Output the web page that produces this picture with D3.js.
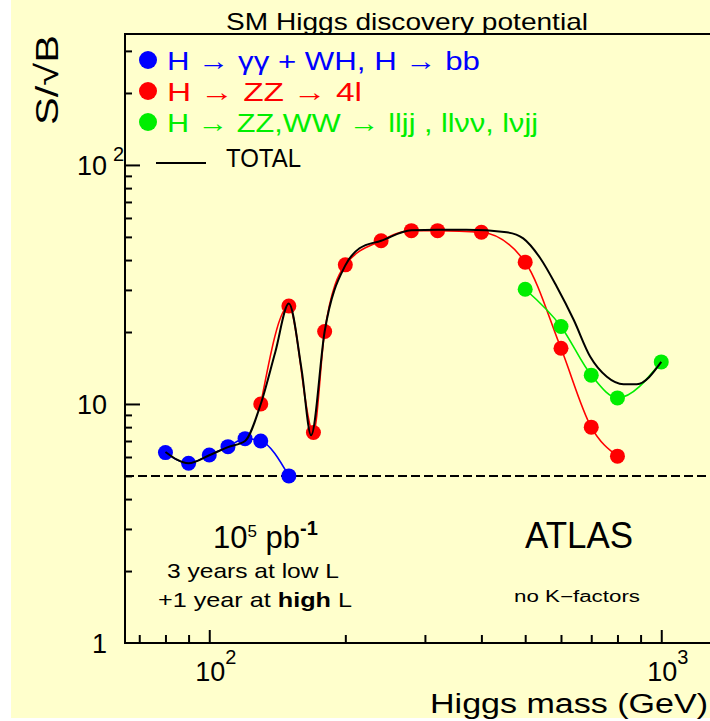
<!DOCTYPE html>
<html>
<head>
<meta charset="utf-8">
<script src="https://cdn.jsdelivr.net/npm/d3@7"></script>
<style>
  body { margin: 0; background: #fff; }
  text { font-family: "Liberation Sans", Arial, Helvetica, sans-serif; }
</style>
</head>
<body>
<svg class="chart"></svg>
<script>
// channels, S/sqrt(B) vs Higgs mass
let massBlue = [80, 90, 100, 110, 120, 130, 150];
let sbBlue   = [6.26, 5.65, 6.12, 6.63, 7.16, 7.0, 5.0];

let massRed = [130, 150, 170, 180, 200, 240, 280, 320, 400, 500, 600, 700, 800];
let sbRed   = [10.0, 25.7, 7.6, 20.1, 38.2, 48.2, 53.1, 53.1, 52.3, 39.2, 17.1, 8.0, 6.05];

let massGreen = [500, 600, 700, 800, 1000];
let sbGreen   = [30.2, 21.1, 13.2, 10.6, 15.0];

let massTotal = [80, 90, 100, 110, 120, 130, 140, 150, 160, 168, 180, 200, 215, 240, 280, 320, 370, 455, 495, 540, 587, 640, 696, 758, 825, 883, 1000];
let sbTotal   = [6.3, 5.65, 6.1, 6.6, 7.0, 10.0, 16.5, 26.3, 14.0, 7.4, 20.1, 38.0, 44.8, 48.2, 53.3, 53.5, 53.5, 52.3, 49.3, 40.7, 31.0, 22.5, 15.8, 13.0, 12.1, 12.1, 15.0];

let discoveryLine = 5;

let xMajor = [100, 1000];
let xMinor = [70, 80, 90, 200, 300, 400, 500, 600, 700, 800, 900];
let yMajor = [1, 10, 100];
let yMinor = [2, 3, 4, 5, 6, 7, 8, 9, 20, 30, 40, 50, 60, 70, 80, 90, 200, 300];

let width = 710;
let height = 721;

let svg = d3.select(".chart").attr("width", width).attr("height", height);

svg.append("rect")
  .attr("x", 11).attr("y", 0)
  .attr("width", width - 11).attr("height", 718)
  .attr("fill", "#ffffcc");

// scales: 1 decade = 452 px in x, 239 px in y
let xMin = 65.1, xMax = 1500;
let x = d3.scaleLog()
  .domain([xMin, xMax])
  .range([125, 125 + 452 * Math.log10(xMax / xMin)]);
let y = d3.scaleLog()
  .domain([1, 353])
  .range([643, 34]);

// frame
svg.append("path")
  .attr("d", "M" + width + "," + y(353) + "H" + x(xMin) + "V" + y(1) + "H" + width)
  .attr("fill", "none").attr("stroke", "#000").attr("stroke-width", 2);

// ticks
function noDomain(g) { g.select(".domain").remove(); }
svg.append("g").attr("transform", "translate(0," + y(1) + ")")
  .call(d3.axisTop(x).tickValues(xMajor).tickSize(13).tickFormat(""))
  .call(noDomain);
svg.append("g").attr("transform", "translate(0," + y(1) + ")")
  .call(d3.axisTop(x).tickValues(xMinor).tickSize(8).tickFormat(""))
  .call(noDomain);
svg.append("g").attr("transform", "translate(" + x(xMin) + ",0)")
  .call(d3.axisRight(y).tickValues(yMajor.filter(function(d){ return d > 1; })).tickSize(15).tickFormat(""))
  .call(noDomain);
svg.append("g").attr("transform", "translate(" + x(xMin) + ",0)")
  .call(d3.axisRight(y).tickValues(yMinor).tickSize(7).tickFormat(""))
  .call(noDomain);
svg.selectAll(".tick line").attr("stroke", "#000").attr("stroke-width", 2);

// tick labels with exponents
xMajor.forEach(function(v) {
  let e = Math.round(Math.log10(v));
  let t = svg.append("text")
    .attr("x", x(v) - 14).attr("y", 681)
    .style("font-size", "27px");
  t.append("tspan").text("10");
  t.append("tspan").attr("dy", -17).style("font-size", "20px").text(e);
});

yMajor.forEach(function(v) {
  let e = Math.round(Math.log10(v));
  svg.append("text")
    .attr("x", 107).attr("y", y(v) + 10)
    .attr("text-anchor", "end")
    .style("font-size", "27px")
    .text(e === 0 ? "1" : "10");
  if (e > 1) {
    svg.append("text")
      .attr("x", 113).attr("y", y(v) - 4)
      .style("font-size", "20px")
      .text(e);
  }
});

// dashed discovery line
svg.append("line")
  .attr("x1", x(xMin)).attr("x2", width)
  .attr("y1", y(discoveryLine)).attr("y2", y(discoveryLine))
  .attr("stroke", "#000").attr("stroke-width", 2)
  .attr("stroke-dasharray", "9,4");

let line = d3.line()
  .x(function(d) { return x(d[0]); })
  .y(function(d) { return y(d[1]); })
  .curve(d3.curveMonotoneX);

let series = [
  {mass: massRed, sb: sbRed, color: "#ff0000"},
  {mass: massGreen, sb: sbGreen, color: "#00ee00"},
  {mass: massBlue, sb: sbBlue, color: "#0000ff"}
];

series.forEach(function(s) {
  svg.append("path")
    .datum(d3.zip(s.mass, s.sb))
    .attr("d", line)
    .attr("fill", "none")
    .attr("stroke", s.color)
    .attr("stroke-width", 1.6);
});
series.forEach(function(s) {
  svg.selectAll(null)
    .data(d3.zip(s.mass, s.sb))
    .enter()
    .append("circle")
    .attr("cx", function(d) { return x(d[0]); })
    .attr("cy", function(d) { return y(d[1]); })
    .attr("r", 7.5)
    .attr("fill", s.color);
});

svg.append("path")
  .datum(d3.zip(massTotal, sbTotal))
  .attr("d", line)
  .attr("fill", "none")
  .attr("stroke", "#000")
  .attr("stroke-width", 2);

// legend
let legendRows = [
  {color: "#0000ff", len: 313, parts: [["H ", 0], ["\u2192", 1], [" \u03b3\u03b3 + WH, H ", 0], ["\u2192", 1], [" bb", 0]]},
  {color: "#ff0000", len: 195, parts: [["H \u2192 ZZ \u2192 4l", 0]]},
  {color: "#00ee00", len: 371, parts: [["H \u2192 ZZ,WW \u2192 lljj , ll\u03bd\u03bd, l\u03bdjj", 0]]}
];
legendRows.forEach(function(r, i) {
  let cy = 60 + i * 31;
  svg.append("circle").attr("cx", 148).attr("cy", cy).attr("r", 9).attr("fill", r.color);
  let t = svg.append("text")
    .attr("x", 167).attr("y", cy + 10)
    .attr("fill", r.color)
    .attr("textLength", r.len)
    .attr("lengthAdjust", "spacingAndGlyphs")
    .style("font-size", "26px");
  r.parts.forEach(function(p) {
    t.append("tspan").style("font-weight", p[1] ? "bold" : "normal").text(p[0]);
  });
});
svg.append("line").attr("x1", 156).attr("x2", 206).attr("y1", 163).attr("y2", 163)
  .attr("stroke", "#000").attr("stroke-width", 2);
svg.append("text").attr("x", 226).attr("y", 167)
  .attr("textLength", 75).attr("lengthAdjust", "spacingAndGlyphs")
  .style("font-size", "26px").text("TOTAL");

// title and axis titles
svg.append("text").attr("x", 226).attr("y", 30)
  .attr("textLength", 362).attr("lengthAdjust", "spacingAndGlyphs")
  .style("font-size", "24px").text("SM Higgs discovery potential");

svg.append("text")
  .attr("transform", "translate(58,80) rotate(-90)")
  .attr("text-anchor", "middle")
  .attr("textLength", 90).attr("lengthAdjust", "spacingAndGlyphs")
  .style("font-size", "32px").text("S/\u221aB");

svg.append("text").attr("x", 430).attr("y", 713)
  .attr("textLength", 278).attr("lengthAdjust", "spacingAndGlyphs")
  .style("font-size", "27px").text("Higgs mass (GeV)");

// annotations
let lumi = svg.append("text").attr("x", 213).attr("y", 548).style("font-size", "31px");
lumi.append("tspan").text("10");
lumi.append("tspan").attr("dy", -11).style("font-size", "17px").text("5");
lumi.append("tspan").attr("dy", 11).text(" pb");
lumi.append("tspan").attr("dy", -13).style("font-size", "20px").style("font-weight", "bold").text("-1");

svg.append("text").attr("x", 167).attr("y", 578)
  .attr("textLength", 172).attr("lengthAdjust", "spacingAndGlyphs")
  .style("font-size", "21px").text("3 years at low L");
let hi = svg.append("text").attr("x", 158).attr("y", 607)
  .attr("textLength", 194).attr("lengthAdjust", "spacingAndGlyphs")
  .style("font-size", "21px");
hi.append("tspan").text("+1 year at ");
hi.append("tspan").style("font-weight", "bold").text("high");
hi.append("tspan").text(" L");

svg.append("text").attr("x", 525).attr("y", 548)
  .attr("textLength", 108).attr("lengthAdjust", "spacingAndGlyphs")
  .style("font-size", "36px").text("ATLAS");
svg.append("text").attr("x", 514).attr("y", 602)
  .attr("textLength", 126).attr("lengthAdjust", "spacingAndGlyphs")
  .style("font-size", "16px").text("no K\u2212factors");
</script>
</body>
</html>
